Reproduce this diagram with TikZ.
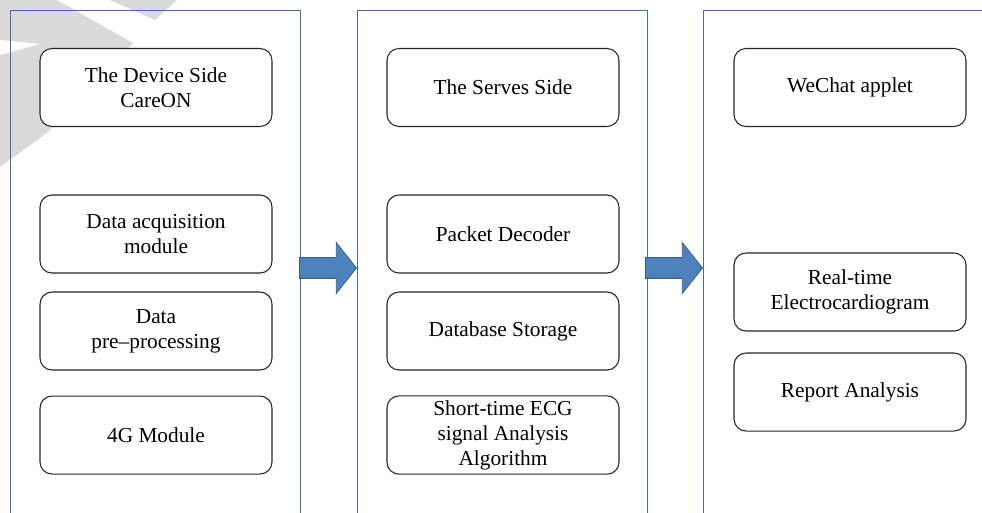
\documentclass[tikz,border=0pt]{standalone}
\usepackage{fontspec}
\setmainfont{Liberation Serif}
\usepackage{tikz}
\definecolor{panelblue}{RGB}{68,108,156}
\definecolor{arrowfill}{RGB}{79,129,189}
\definecolor{arrowline}{RGB}{54,92,138}
\definecolor{markgray}{RGB}{218,218,218}
\tikzstyle{panel}=[draw=panelblue, line width=1pt, minimum width=217.5pt, minimum height=420pt, inner sep=0pt]
\tikzstyle{box}=[draw=black!85, fill=white, line width=0.8pt, rounded corners=9pt, minimum width=174pt, minimum height=58.5pt, outer sep=0pt, align=center, font=\fontsize{16}{18.75}\selectfont]
\tikzstyle{bigarrow}=[single arrow, draw=arrowline, fill=arrowfill, line width=0.6pt, inner sep=7.5pt, single arrow head extend=11.25pt, single arrow head indent=0pt, single arrow tip angle=103, minimum height=42.75pt]
\usetikzlibrary{shapes.arrows,positioning,calc}

\begin{document}
\begin{tikzpicture}[x=0.75pt,y=-0.75pt]
\useasboundingbox (0,0) rectangle (982,513);
\clip (0,0) rectangle (982,513);

% watermark
\fill[markgray] (0,0) -- (57,0) -- (133,43) -- (47,133) -- (0,167) -- cycle;
\fill[white] (0,40) -- (40,44) -- (0,55) -- cycle;
\fill[markgray] (110,0) -- (177,0) -- (155,20) -- cycle;

\node (p1) [panel, anchor=north west] at (10,10) {};
\node (p2) [panel, anchor=north west] at (357,10) {};
\node (p3) [panel, anchor=north west] at (703,10) {};

\node (l1) [box] at (156,87.5) {The Device Side\\CareON};
\node (l2) [box, below=51.4pt of l1] {Data acquisition\\module};
\node (l3) [box, below=14.25pt of l2] {Data\\pre--processing};
\node (l4) [box, below=19.5pt of l3] {4G Module};

\node (m1) [box, right=86.25pt of l1] {The Serves Side};
\node (m2) [box, right=86.25pt of l2] {Packet Decoder};
\node (m3) [box, right=86.25pt of l3] {Database Storage};
\node (m4) [box, right=86.25pt of l4] {Short-time ECG\\signal Analysis\\Algorithm};

\node (r1) [box, right=86.25pt of m1] {WeChat applet};
\node (r2) [box, below=94.9pt of r1] {Real-time\\Electrocardiogram};
\node (r3) [box, below=16.5pt of r2] {Report Analysis};

\node (a1) [bigarrow, anchor=east] at (p2.west |- 0,268) {};
\node (a2) [bigarrow, anchor=east] at (p3.west |- 0,268) {};

\end{tikzpicture}
\end{document}
